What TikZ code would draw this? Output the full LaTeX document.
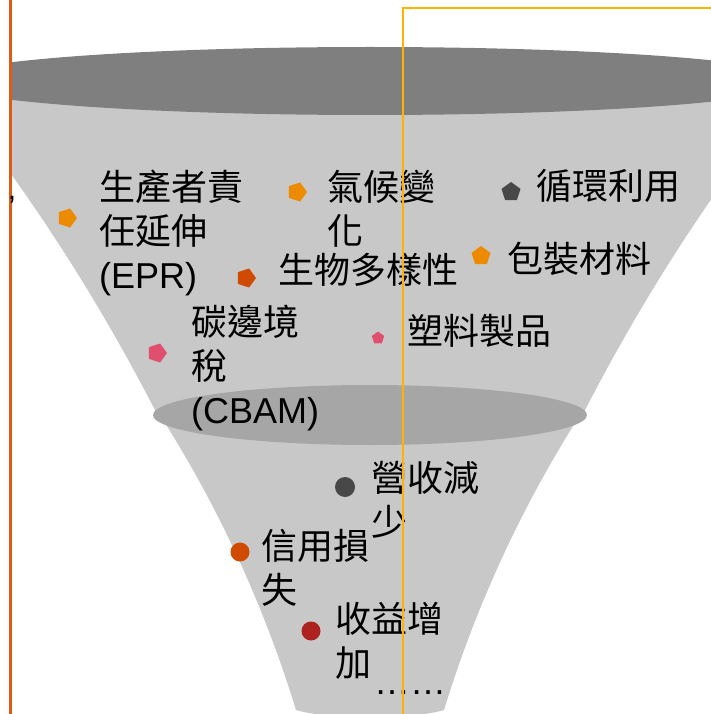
\documentclass[tikz,border=0pt]{standalone}
\usepackage{fontspec}
\setmainfont{Liberation Sans}
\newfontfamily\cjk{Noto Sans CJK TC}
\usetikzlibrary{shapes.geometric}
\definecolor{topcol}{RGB}{127,127,127}
\definecolor{bodycol}{RGB}{200,200,200}
\definecolor{midcol}{RGB}{166,166,166}
\definecolor{bOrange}{RGB}{236,139,0}
\definecolor{bDarkOrange}{RGB}{208,74,2}
\definecolor{bPink}{RGB}{224,80,110}
\definecolor{bGray}{RGB}{72,72,72}
\definecolor{bRed}{RGB}{173,33,30}
\definecolor{leftline}{RGB}{222,90,25}
\definecolor{amber}{RGB}{255,178,0}
\begin{document}
\begin{tikzpicture}[x=1pt,y=-1pt,
  lbl/.style={anchor=base west, inner sep=0pt, align=left, text=black,
              font=\fontsize{36}{44}\selectfont\cjk},
  pentR/.style={regular polygon, regular polygon sides=5, minimum size=20pt,
                inner sep=0pt, shape border rotate=-90, draw=none},
  pentU/.style={regular polygon, regular polygon sides=5, minimum size=20pt,
                inner sep=0pt, draw=none},
  dot/.style={circle, minimum size=19pt, inner sep=0pt, draw=none}]
\useasboundingbox (0,0) rectangle (711,714);

% funnel
\begin{scope}
  \clip (10,0) rectangle (711,714);
  \fill[bodycol] (-60,81) .. controls (24,184) and (96,295) .. (157,414)
     -- (583,414) .. controls (644,295) and (716,184) .. (800,81) -- cycle;
  \fill[bodycol] (160,415) .. controls (218.6,507.2) and (264,605.6) .. (296,710)
     .. controls (330,720) and (410,720) .. (444,710)
     .. controls (476,605.6) and (521.4,507.2) .. (580,415) -- cycle;
  \fill[topcol] (370,81) ellipse [x radius=430, y radius=34];
  \fill[midcol] (370,415) ellipse [x radius=217, y radius=30];
\end{scope}

% bullets
\node[pentR, fill=bOrange] (b1) at (67,218) {};
\node[pentR, fill=bOrange] (b2) at (297,192) {};
\node[pentU, fill=bGray] (b3) at (511,192) {};
\node[pentR, fill=bDarkOrange] (b4) at (246,278) {};
\node[pentU, fill=bOrange] (b5) at (481,256) {};
\node[pentR, fill=bPink] (b6) at (157,353) {};
\node[pentU, fill=bPink, minimum size=13pt] (b7) at (378,338) {};
\node[dot, fill=bGray, minimum size=20pt] (c1) at (345,487) {};
\node[dot, fill=bDarkOrange] (c2) at (240,552) {};
\node[dot, fill=bRed] (c3) at (311,631) {};

% labels (base anchor = baseline of last line)
\node[lbl] (epr) at (99,288) {生產者責\\任延伸\\{\rmfamily (EPR)}};
\node[lbl] (climate) at (327,244) {氣候變\\化};
\node[lbl] (circ) at (536,200) {循環利用};
\node[lbl] (bio) at (278,283) {生物多樣性};
\node[lbl] (pack) at (507,272) {包裝材料};
\node[lbl] (cbam) at (191,423) {碳邊境\\稅\\{\rmfamily (CBAM)}};
\node[lbl] (plastic) at (407,344) {塑料製品};
\node[lbl] (rev) at (371,535) {營收減\\少};
\node[lbl] (credit) at (261,603) {信用損\\失};
\node[lbl] (income) at (335,676) {收益增\\加};
\node[lbl, font=\fontsize{36}{44}\selectfont\rmfamily] (etc) at (374,694) {……};

% frame lines
\draw[leftline, line width=3pt] (10,-2) -- (10,716);
\draw[amber, line width=2pt] (403,716) -- (403,8) -- (720,8);
\node[anchor=base, inner sep=0pt, font=\fontsize{30}{32}\selectfont] (comma) at (12,200) {,};
\end{tikzpicture}
\end{document}
